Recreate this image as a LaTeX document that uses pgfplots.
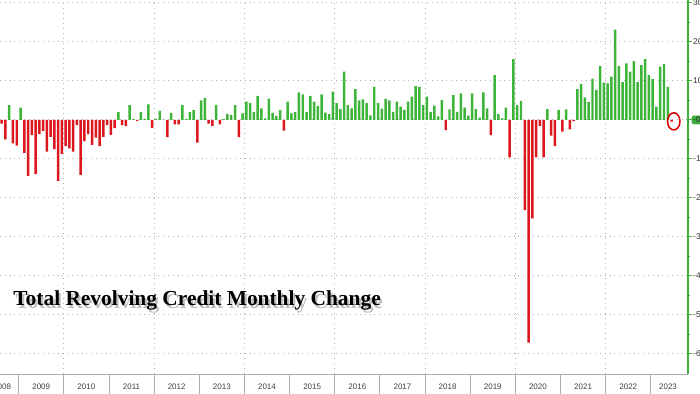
\documentclass[border=0pt]{standalone}
\usepackage{fontspec}
\setmainfont{Liberation Sans}
\newfontfamily\titlefont{Liberation Serif}
\usepackage{pgfplots}
\pgfplotsset{compat=1.18}
\definecolor{bargreen}{RGB}{62,180,58}
\definecolor{barred}{RGB}{220,24,30}
\definecolor{axgreen}{RGB}{60,175,60}
\definecolor{gridgray}{RGB}{175,175,175}
\begin{document}
\begin{tikzpicture}
\begin{axis}[
  name=ax, at={(0pt,0pt)}, anchor=north west,
  scale only axis, width=344pt, height=187pt,
  xmin=0.548, xmax=183.38, ymin=-65.13, ymax=30.77,
  clip=false,
  axis x line*=bottom, axis y line*=right,
  x axis line style={gridgray, -}, y axis line style={axgreen, line width=0.6pt, -},
  xtick={1.1,11.5,23.5,35.5,47.5,59.5,71.5,83.5,95.5,107.5,119.5,131.5,143.5,155.5,167.5,178.07},
  xticklabels={2008,2009,2010,2011,2012,2013,2014,2015,2016,2017,2018,2019,2020,2021,2022,2023},
  xtick style={draw=none},
  xticklabel style={font=\fontsize{4}{5}\selectfont, text=black!75, anchor=north, inner sep=0pt, yshift=-3pt},
  ytick={-60,-50,-40,-30,-20,-10,0,10,20,30},
  yticklabels={-60,-50,-40,-30,-20,-10,,10,20,30},
  minor y tick num=1,
  tick align=outside,
  major tick length=2pt, minor tick length=1.2pt,
  ytick style={axgreen, line width=0.5pt},
  yticklabel style={font=\fontsize{4.2}{5}\selectfont, text=black!80, anchor=west, inner sep=0pt, xshift=0.4pt},
  ymajorgrids, major grid style={gridgray, dotted, line width=0.5pt},
]
% year separators in the label band
\pgfplotsinvokeforeach{5.5,17.5,29.5,41.5,53.5,65.5,77.5,89.5,101.5,113.5,125.5,137.5,149.5,161.5,173.5}{
  \draw[gridgray, line width=0.4pt] (axis cs:#1,-65.13) -- ++(0pt,-10pt);
}
% dotted vertical grid every two years
\pgfplotsinvokeforeach{17.5,41.5,65.5,89.5,113.5,137.5,161.5}{
  \draw[gridgray, dotted, line width=0.5pt] (axis cs:#1,-65.13) -- (axis cs:#1,30.77);
}
\addplot[ybar, bar width=0.66, bar shift=0pt, fill=bargreen, draw=none] coordinates {
(3,3.8)(6,3.2)(32,2.0)(35,3.8)(36,0.2)(38,2.1)(39,0.3)(40,4.0)(42,0.3)(43,2.4)(44,0.1)(46,1.8)(49,3.9)(50,0.2)(51,2.0)(52,2.5)(54,5.0)(55,5.7)(58,3.9)(60,0.2)(61,1.5)(62,1.3)(63,3.8)(65,1.7)(66,4.7)(67,4.3)(68,2.1)(69,6.2)(70,3.0)(71,0.4)(72,5.5)(73,1.8)(74,1.0)(75,2.5)(77,4.7)(78,1.7)(79,2.1)(80,7.1)(81,6.6)(82,2.1)(83,6.2)(84,4.7)(85,3.6)(86,6.6)(87,1.9)(88,1.5)(89,7.3)(90,4.3)(91,2.8)(92,12.4)(93,3.8)(94,3.0)(95,7.9)(96,5.0)(97,5.3)(98,4.3)(99,1.2)(100,8.5)(101,4.3)(102,2.9)(103,5.4)(104,5.0)(105,2.1)(106,4.7)(107,3.4)(108,2.6)(109,4.7)(110,6.0)(111,8.7)(112,8.5)(113,3.8)(114,6.0)(115,2.1)(116,3.7)(117,0.9)(118,5.1)(120,2.7)(121,6.4)(122,2.1)(123,6.8)(124,3.2)(125,1.1)(126,6.8)(127,2.8)(128,0.6)(129,7.1)(130,3.0)(132,11.5)(133,1.5)(134,0.4)(135,3.2)(137,15.6)(138,3.8)(139,4.9)(146,2.8)(149,2.6)(151,2.7)(154,7.9)(155,9.2)(156,5.8)(157,4.6)(158,10.6)(159,7.7)(160,13.8)(161,9.6)(162,9.4)(163,11.1)(164,23.2)(165,13.9)(166,9.7)(167,14.5)(168,12.4)(169,15.1)(170,9.7)(171,14.1)(172,15.6)(173,11.5)(174,10.5)(175,3.4)(176,13.7)(177,14.3)(178,8.5)
};
\addplot[ybar, bar width=0.66, bar shift=0pt, fill=barred, draw=none] coordinates {
(1,-0.9)(2,-5.0)(4,-6.0)(5,-6.6)(7,-8.4)(8,-14.3)(9,-3.9)(10,-13.9)(11,-3.6)(12,-2.8)(13,-8.1)(14,-4.3)(15,-7.5)(16,-15.6)(17,-8.7)(18,-6.7)(19,-7.3)(20,-8.1)(21,-1.3)(22,-14.1)(23,-5.4)(24,-3.6)(25,-6.4)(26,-4.5)(27,-6.7)(28,-4.3)(29,-1.3)(30,-3.8)(31,-2.1)(33,-1.3)(34,-1.5)(37,-0.2)(41,-2.0)(45,-4.4)(47,-1.1)(48,-1.1)(53,-5.8)(56,-0.9)(57,-1.5)(59,-1.1)(64,-4.4)(76,-2.7)(119,-2.6)(131,-3.9)(136,-9.6)(140,-23.1)(141,-57.1)(142,-25.2)(143,-9.6)(144,-1.5)(145,-9.6)(147,-4.0)(148,-6.7)(150,-3.0)(152,-2.4)(153,-0.3)(179,-0.4)
};
% last value marker
\draw[red!85!black, line width=0.75pt] (axis cs:179.6,-0.35) ellipse [x radius=3.1pt, y radius=4.3pt];
\node[fill=axgreen, rounded corners=0.8pt, anchor=west, inner sep=0.7pt, font=\fontsize{4.2}{5}\selectfont, text=black!80] at (axis cs:183.38,0) [xshift=1.6pt] {-0.4};
\end{axis}
% title with drop shadow
\node[anchor=base west, inner sep=0pt, font=\titlefont\bfseries\fontsize{10.7}{12}\selectfont, text=black!45, opacity=0.55] at (7.6pt,-154.2pt) {Total Revolving Credit Monthly Change};
\node[anchor=base west, inner sep=0pt, font=\titlefont\bfseries\fontsize{10.7}{12}\selectfont] at (6.5pt,-153pt) {Total Revolving Credit Monthly Change};
\pgfresetboundingbox
\path[use as bounding box] (0pt,-197pt) rectangle (350pt,0pt);
\end{tikzpicture}
\end{document}
